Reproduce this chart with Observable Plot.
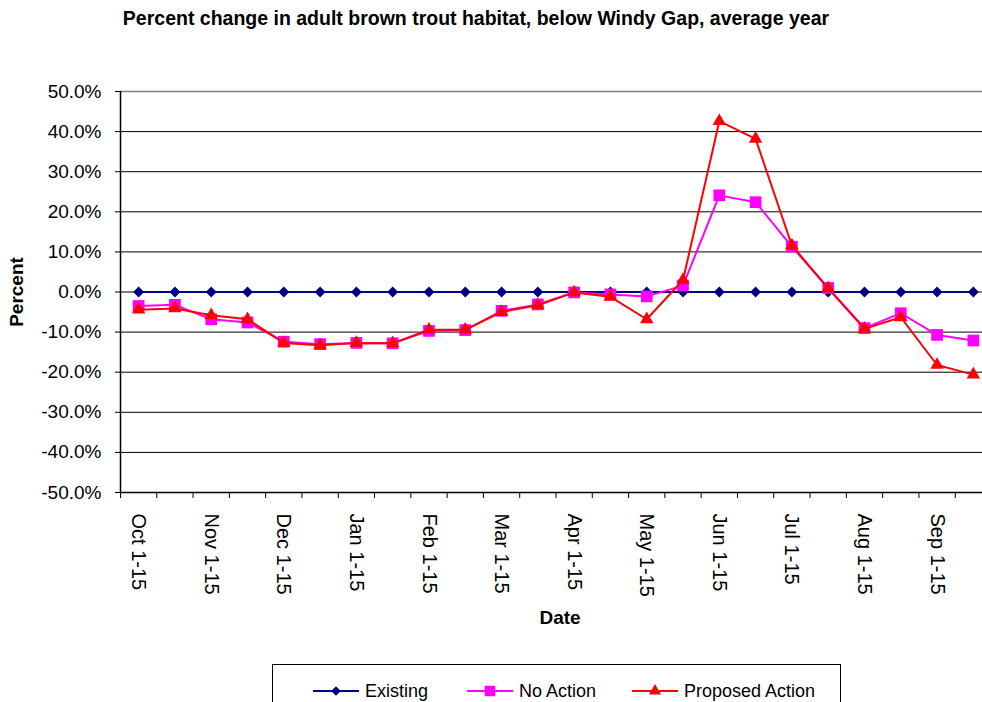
<!DOCTYPE html>
<html>
<head>
<meta charset="utf-8">
<script src="https://cdn.jsdelivr.net/npm/d3@7"></script>
<script src="https://cdn.jsdelivr.net/npm/@observablehq/plot@0.6"></script>
<style>
  html, body { margin: 0; padding: 0; background: #fff; overflow: hidden; width: 982px; height: 702px; }
  body { position: relative; font-family: Arial, "Liberation Sans", sans-serif; }
  #title { position: absolute; left: 0; top: 7px; width: 952px; text-align: center; font-weight: bold; font-size: 19.5px; color: #000; white-space: nowrap; }
  #chart { position: absolute; left: 0; top: 36px; }
  #chart svg { max-width: none !important; height: 627px !important; }
  .axtitle { position: absolute; font-weight: bold; font-size: 19px; color: #000; line-height: 22px; }
  #legend { position: absolute; left: 272px; top: 664px; width: 569px; height: 60px; border: 1px solid #000; box-sizing: border-box; }
  .litem { position: absolute; top: 14px; height: 24px; display: flex; align-items: center; font-size: 18px; color: #000; white-space: nowrap; }
  .litem svg { margin-right: 6px; }
</style>
</head>
<body>
<div id="title">Percent change in adult brown trout habitat, below Windy Gap, average year</div>
<div id="chart"></div>
<div class="axtitle" id="ylab" style="left:-23px; top:281px; width:80px; text-align:center; transform: rotate(-90deg);">Percent</div>
<div class="axtitle" id="xlab" style="left:510px; top:607px; width:100px; text-align:center;">Date</div>
<div id="legend"></div>
<script>
const categories = ["Oct 1-15","Oct 16-31","Nov 1-15","Nov 16-30","Dec 1-15","Dec 16-31","Jan 1-15","Jan 16-31","Feb 1-15","Feb 16-28","Mar 1-15","Mar 16-31","Apr 1-15","Apr 16-30","May 1-15","May 16-31","Jun 1-15","Jun 16-30","Jul 1-15","Jul 16-31","Aug 1-15","Aug 16-31","Sep 1-15","Sep 16-30"];
const existing = [0,0,0,0,0,0,0,0,0,0,0,0,0,0,0,0,0,0,0,0,0,0,0,0];
const noAction = [-3.5,-3.2,-6.8,-7.6,-12.4,-13.0,-12.7,-12.8,-9.7,-9.5,-4.7,-3.1,-0.1,-0.6,-1.1,1.6,24.1,22.4,11.3,1.0,-9.0,-5.3,-10.7,-12.1];
const proposed = [-4.4,-4.1,-5.8,-6.8,-12.7,-13.3,-12.7,-12.8,-9.4,-9.4,-5.0,-3.3,-0.1,-1.2,-6.8,3.0,42.6,38.2,11.6,0.9,-9.2,-6.3,-18.2,-20.6];
const yTicks = [-50,-40,-30,-20,-10,0,10,20,30,40,50];
const seriesNames = ["Existing","No Action","Proposed Action"];
const seriesColors = ["#000080","#FF00FF","#FF0000"];
const seriesSymbols = ["diamond2","square","triangle"];
const seriesR = [4.9, 6.6, 5.0];

const seriesValues = [existing, noAction, proposed];
const rows = seriesValues.map((vals, s) => categories.map((c, i) => ({i, cat: c, v: vals[i], s})));
const boundaries = d3.range(categories.length + 1).map(k => k - 0.5);
const labelIdx = d3.range(0, categories.length, 2);

const marks = [
  Plot.ruleY(yTicks.filter(t => t > -50 && t < 50), {stroke: "#000", strokeWidth: 1}),
  Plot.ruleY([50], {stroke: "#808080", strokeWidth: 1.5}),
  Plot.ruleY([-50], {stroke: "#000", strokeWidth: 1.5}),
  Plot.ruleX([-0.5], {y1: -50, y2: 50, stroke: "#000", strokeWidth: 1.5}),
  Plot.axisY({ticks: yTicks, tickSize: 5, tickPadding: 14, tickFormat: d => d.toFixed(1) + "%", fontSize: 19, label: null, stroke: "#000"}),
  Plot.axisX({ticks: boundaries, tickSize: 6, tickFormat: () => "", label: null}),
  Plot.axisX({ticks: labelIdx, tickSize: 0, tickPadding: 21, tickRotate: 90, tickFormat: i => categories[i], fontSize: 20, label: null})
];
rows.forEach((data, s) => {
  marks.push(Plot.line(data, {x: "i", y: "v", stroke: seriesColors[s], strokeWidth: 2}));
  marks.push(Plot.dot(data, {x: "i", y: "v", symbol: () => seriesSymbols[s], fill: seriesColors[s], stroke: "none", r: seriesR[s]}));
});

const chart = Plot.plot({
  width: 992,
  height: 627,
  marginLeft: 120,
  marginRight: 1,
  marginTop: 55,
  marginBottom: 171,
  style: {fontFamily: "Arial, 'Liberation Sans', sans-serif", color: "#000", background: "transparent", overflow: "visible", maxWidth: "none"},
  x: {domain: [-0.5, categories.length - 0.5], axis: null},
  y: {domain: [-50, 50], axis: null},
  symbol: {type: "identity"},
  marks
});
document.getElementById("chart").appendChild(chart);

// legend
const legend = document.getElementById("legend");
const lpos = [40, 194, 359];
seriesNames.forEach((name, s) => {
  const item = document.createElement("div");
  item.className = "litem";
  item.style.left = lpos[s] + "px";
  const sym = d3.symbol(s === 0 ? d3.symbolDiamond2 : s === 1 ? d3.symbolSquare : d3.symbolTriangle, Math.PI * seriesR[s] * seriesR[s] * 0.8)();
  item.innerHTML = `<svg width="46" height="16"><line x1="0" x2="46" y1="8" y2="8" stroke="${seriesColors[s]}" stroke-width="2"/><path transform="translate(23,8)" d="${sym}" fill="${seriesColors[s]}"/></svg><span>${name}</span>`;
  legend.appendChild(item);
});
</script>
</body>
</html>
